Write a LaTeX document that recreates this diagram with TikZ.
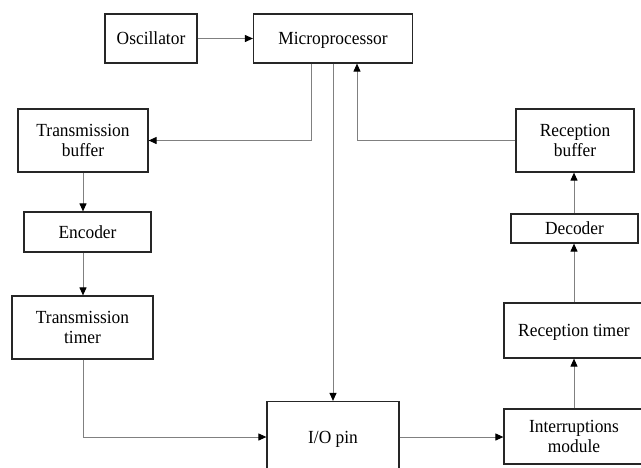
\documentclass[tikz,border=0pt]{standalone}
\usepackage{fontspec}
\setmainfont{Liberation Serif}[FakeStretch=0.94]
\usetikzlibrary{arrows.meta}
\begin{document}
\begin{tikzpicture}[x=1pt,y=-1pt,
  block/.style={draw=black!85, line width=1.2pt, fill=white, inner sep=0pt,
    align=center, font=\fontsize{18.5}{20}\selectfont},
  oneline/.style={block, text height=12.2pt, text depth=0pt},
  link/.style={draw=black!50, line width=1pt,
    -{Triangle[length=8pt,width=7pt,color=black]}}]
\useasboundingbox (0,0) rectangle (641,467);

% blocks
\node[oneline, minimum width=92pt,  minimum height=49pt] (osc)    at (151,38.5)  {Oscillator};
\node[oneline, minimum width=159pt, minimum height=49pt] (micro)  at (333,38.5)  {Microprocessor};
\node[block,   minimum width=130pt, minimum height=63pt] (tbuf)   at (83,140.5)  {Transmission\\buffer};
\node[oneline, minimum width=127pt, minimum height=40pt] (enc)    at (87.5,232)  {Encoder};
\node[block,   minimum width=141pt, minimum height=63pt] (ttimer) at (82.5,327.5) {Transmission\\timer};
\node[oneline, minimum width=132pt, minimum height=71pt] (iopin)  at (333,437)   {I/O pin};
\node[block,   minimum width=140pt, minimum height=55pt] (intm)   at (574,436.5) {Interruptions\\module};
\node[oneline, minimum width=140pt, minimum height=55pt] (rtimer) at (574,330.5) {Reception timer};
\node[oneline, minimum width=127pt, minimum height=29pt] (dec)    at (574.5,228.5) {Decoder};
\node[block,   minimum width=118pt, minimum height=63pt] (rbuf)   at (575,140.5) {Reception\\buffer};

% transmit path
\draw[link] (osc.east) -- (micro.west);
\draw[link] ([xshift=-22pt]micro.south) |- (tbuf.east);
\draw[link] (tbuf.south) -- (tbuf.south |- enc.north);
\draw[link] (tbuf.south |- enc.south) -- (tbuf.south |- ttimer.north);
\draw[link] (tbuf.south |- ttimer.south) |- (iopin.west);
\draw[link] (micro.south) -- (iopin.north);

% receive path
\draw[link] (iopin.east) -- (iopin.east -| intm.west);
\draw[link] (intm.north) -- (rtimer.south);
\draw[link] (rtimer.north) -- (rtimer.north |- dec.south);
\draw[link] (rtimer.north |- dec.north) -- (rtimer.north |- rbuf.south);
\draw[link] (rbuf.west) -| ([xshift=24pt]micro.south);
\end{tikzpicture}
\end{document}
